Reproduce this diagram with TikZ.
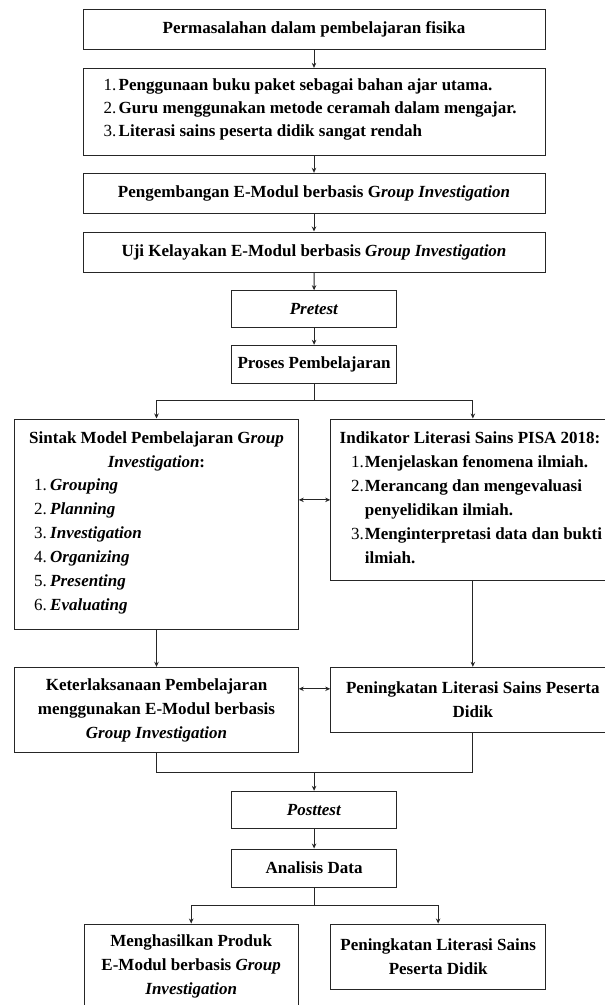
\documentclass[tikz,border=0pt]{standalone}
\usepackage{fontspec}
\setmainfont{Liberation Serif}
\usetikzlibrary{arrows.meta,calc}
\newcommand{\numA}[1]{\makebox[15.1pt][l]{\mdseries #1}}
\newcommand{\numB}[1]{\makebox[16pt][l]{\mdseries #1}}
\newcommand{\numC}[1]{\hspace*{11.5pt}\makebox[13.6pt][l]{\mdseries #1}}
\begin{document}
\begin{tikzpicture}[x=1pt,y=-1pt,
  box/.style={draw=black!85,line width=1pt,inner sep=0pt,align=center,font=\bfseries\fontsize{17}{24}\selectfont},
  txt/.style={inner sep=0pt,font=\bfseries\fontsize{17}{24}\selectfont},
  arr/.style={draw=black!85,line width=1pt,-{Stealth[length=5pt,width=4.5pt]}},
  ln/.style={draw=black!85,line width=1pt},
  dbl/.style={draw=black!85,line width=1pt,{Stealth[length=5pt,width=4.5pt]}-{Stealth[length=5pt,width=4.5pt]}}]
\useasboundingbox (0,0) rectangle (605,1005);
\fill[white] (0,0) rectangle (605,1005);
\clip (0,0) rectangle (605,1005);
% boxes
\node[box,minimum width=462pt,minimum height=40pt] (n1) at (314,29.3) {Permasalahan dalam pembelajaran fisika};
\node[box,minimum width=462pt,minimum height=86.7pt] (n2) at (314,111.7) {};
\node[txt,anchor=west,align=left,font=\bfseries\fontsize{17}{23}\selectfont] (n2t) at (103.4,109) {\numA{1.}Penggunaan buku paket sebagai bahan ajar utama.\\
\numA{2.}Guru menggunakan metode ceramah dalam mengajar.\\
\numA{3.}Literasi sains peserta didik sangat rendah};
\node[box,minimum width=462pt,minimum height=40pt] (n3) at (314,193.3) {Pengembangan E-Modul berbasis G\textit{roup Investigation}};
\node[box,minimum width=462pt,minimum height=40pt] (n4) at (314,252) {Uji Kelayakan E-Modul berbasis \textit{Group Investigation}};
\node[box,minimum width=165.2pt,minimum height=37pt] (pre) at (314.1,309.2) {\textit{Pretest}};
\node[box,minimum width=165.2pt,minimum height=38pt] (pro) at (314.1,364.3) {Proses Pembelajaran};
\node[box,minimum width=283.6pt,minimum height=210pt] (sin) at (156.5,524) {};
\node[txt,align=center] (sint) at (156.5,451.3) {Sintak Model Pembelajaran G\textit{roup}\\\textit{Investigation}:};
\node[txt,anchor=west,align=left] (sini) at (34,546.7) {\numB{1.}\textit{Grouping}\\
\numB{2.}\textit{Planning}\\
\numB{3.}\textit{Investigation}\\
\numB{4.}\textit{Organizing}\\
\numB{5.}\textit{Presenting}\\
\numB{6.}\textit{Evaluating}};
\node[box,minimum width=284.3pt,minimum height=161.7pt] (ind) at (472.85,499.85) {};
\node[txt,anchor=west,align=left] (indt) at (339.5,497.5) {Indikator Literasi Sains PISA 2018:\\
\numC{1.}Menjelaskan fenomena ilmiah.\\
\numC{2.}Merancang dan mengevaluasi\\
\hspace*{25.1pt}penyelidikan ilmiah.\\
\numC{3.}Menginterpretasi data dan bukti\\
\hspace*{25.1pt}ilmiah.};
\node[box,minimum width=283.6pt,minimum height=85.4pt] (ket) at (156.5,710) {Keterlaksanaan Pembelajaran\\menggunakan E-Modul berbasis\\\textit{Group Investigation}};
\node[box,minimum width=284.3pt,minimum height=65.4pt] (pen) at (472.85,700) {Peningkatan Literasi Sains Peserta\\Didik};
\node[box,minimum width=165.2pt,minimum height=37pt] (post) at (314.1,809.8) {\textit{Posttest}};
\node[box,minimum width=165.2pt,minimum height=38pt] (ana) at (314.1,868) {Analisis Data};
\node[box,minimum width=214.2pt,minimum height=84pt] (men) at (191.2,966) {Menghasilkan Produk\\E-Modul berbasis \textit{Group}\\\textit{Investigation}};
\node[box,minimum width=214.9pt,minimum height=65.3pt] (pen2) at (438.15,956.65) {Peningkatan Literasi Sains\\Peserta Didik};
% connectors
\draw[arr] (n1.south) -- (n2.north);
\draw[arr] (n2.south) -- (n3.north);
\draw[arr] (n3.south) -- (n4.north);
\draw[arr] (n4.south) -- (pre.north);
\draw[arr] (pre.south) -- (pro.north);
\coordinate (s1) at (314.1,400);
\draw[ln] (pro.south) -- (s1);
\draw[arr] (s1) -| (sin.north);
\draw[arr] (s1) -| (ind.north);
\draw[dbl] (ind.west -| sin.east) -- (ind.west);
\draw[arr] (sin.south) -- (ket.north);
\draw[arr] (ind.south) -- (pen.north);
\coordinate (dd) at ($(pen.north west)+(0,22)$);
\draw[dbl] (dd -| ket.east) -- (dd);
\coordinate (m1) at (314.1,772.3);
\draw[ln] (ket.south) |- (m1);
\draw[ln] (pen.south) |- (m1);
\draw[arr] (m1) -- (post.north);
\draw[arr] (post.south) -- (ana.north);
\coordinate (s2) at (314.1,905);
\draw[ln] (ana.south) -- (s2);
\draw[arr] (s2) -| (men.north);
\draw[arr] (s2) -| (pen2.north);
\end{tikzpicture}
\end{document}
